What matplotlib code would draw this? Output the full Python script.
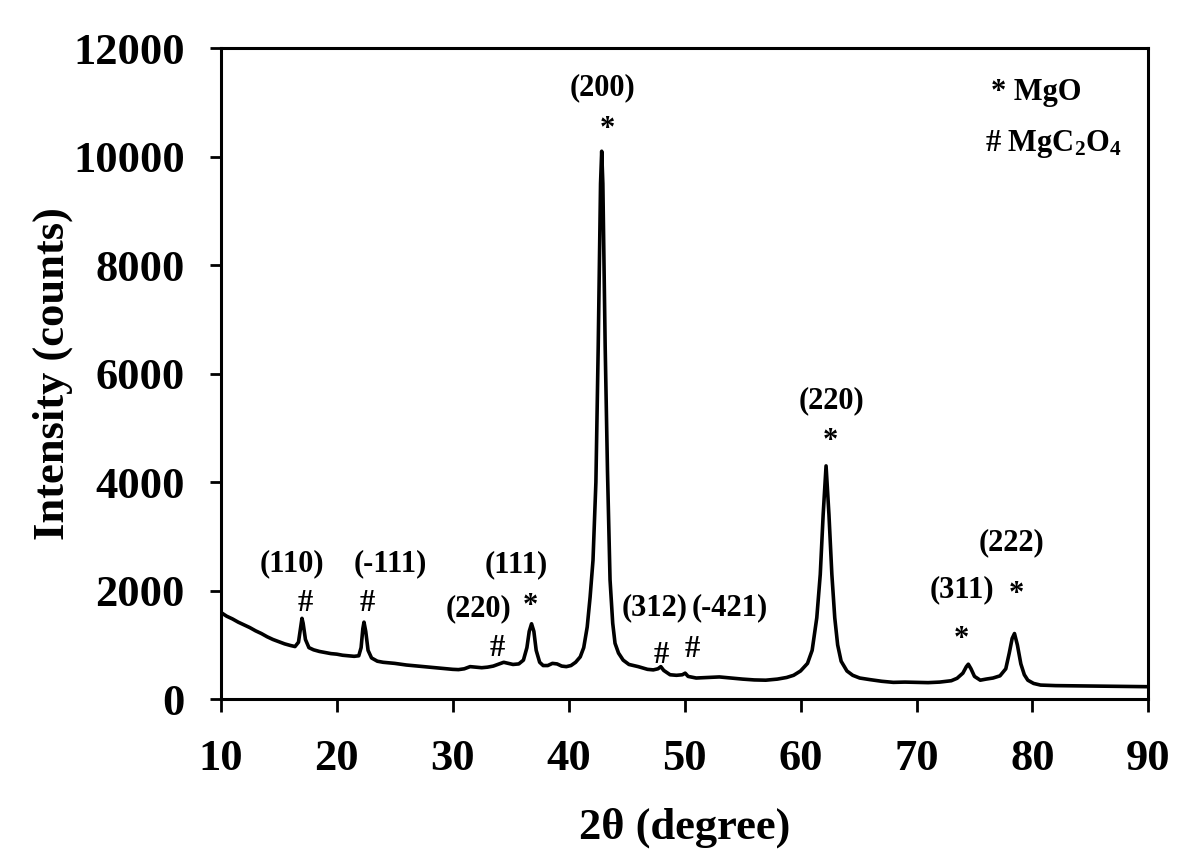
import matplotlib
matplotlib.use("Agg")
import matplotlib.pyplot as plt

plt.rcParams['font.family'] = ['Liberation Serif', 'DejaVu Serif']
plt.rcParams['font.weight'] = 'bold'
plt.rcParams['mathtext.fontset'] = 'custom'
plt.rcParams['mathtext.rm'] = 'Liberation Serif:bold'
plt.rcParams['mathtext.it'] = 'Liberation Serif:bold'
plt.rcParams['mathtext.bf'] = 'Liberation Serif:bold'

# XRD pattern
two_theta = [10.0, 10.5, 11.0, 11.5, 12.0, 12.5, 13.0, 13.5, 14.0, 14.5, 15.0, 15.5, 16.0, 16.4,
             16.7, 16.9, 17.0, 17.1, 17.3, 17.6, 18.0, 18.5, 19.0, 19.5, 20.0, 20.5, 21.0, 21.5,
             21.9, 22.1, 22.25, 22.35, 22.5, 22.7, 23.0, 23.5, 24.0, 25.0, 26.0, 27.0, 28.0, 29.0,
             30.0, 30.5, 31.0, 31.5, 32.0, 32.5, 33.0, 33.5, 34.0, 34.4, 34.8, 35.2, 35.7, 36.1,
             36.4, 36.6, 36.8, 37.0, 37.2, 37.5, 37.8, 38.2, 38.6, 39.0, 39.4, 39.8, 40.2, 40.6,
             41.0, 41.3, 41.6, 41.85, 42.1, 42.35, 42.55, 42.75, 42.85, 42.95, 43.15, 43.35, 43.57,
             43.8, 44.0, 44.3, 44.7, 45.2, 46.0, 46.8, 47.3, 47.7, 47.95, 48.2, 48.75, 49.3, 49.8,
             50.05, 50.3, 51.0, 52.0, 53.0, 54.0, 55.0, 56.0, 57.0, 58.0, 58.8, 59.4, 60.0, 60.6,
             61.0, 61.4, 61.7, 61.95, 62.2, 62.45, 62.7, 62.95, 63.2, 63.5, 64.0, 64.5, 65.1, 66.0,
             67.0, 68.0, 69.0, 70.0, 71.0, 72.0, 73.0, 73.5, 74.0, 74.3, 74.47, 74.7, 75.0, 75.5,
             76.0, 76.6, 77.2, 77.7, 78.0, 78.25, 78.45, 78.7, 79.0, 79.3, 79.6, 80.1, 80.7, 82.0,
             84.0, 86.0, 88.0, 90.0]
intensity = [1600, 1530, 1480, 1420, 1370, 1320, 1260, 1210, 1150, 1100, 1060, 1020, 990, 970,
             1050, 1350, 1490, 1400, 1100, 950, 910, 880, 860, 840, 830, 810, 800, 790,
             800, 950, 1300, 1420, 1250, 900, 760, 700, 680, 660, 630, 610, 590, 570,
             550, 545, 560, 600, 590, 580, 590, 610, 650, 680, 660, 640, 650, 720,
             950, 1250, 1390, 1250, 900, 680, 620, 620, 660, 650, 610, 600, 620, 680,
             780, 950, 1330, 1880, 2560, 4000, 6500, 9500, 10100, 9500, 6500, 4200, 2200,
             1400, 1030, 850, 720, 640, 600, 550, 540, 560, 600, 530, 450, 440, 450,
             480, 420, 390, 400, 410, 390, 370, 355, 350, 370, 400, 440, 520, 660,
             900, 1500, 2300, 3400, 4300, 3400, 2300, 1500, 1000, 700, 520, 440, 390, 360,
             330, 310, 315, 310, 305, 315, 340, 385, 480, 600, 645, 560, 420, 350,
             370, 390, 430, 560, 850, 1120, 1210, 1000, 650, 450, 350, 290, 260, 250,
             245, 240, 235, 230]

# peak labels (Miller indices) and phase markers
hkl_text = ['(110)', '(-111)', '(220)', '(111)', '(200)', '(312)', '(-421)', '(220)', '(311)', '(222)']
hkl_x = [16.1, 24.6, 32.2, 35.45, 42.9, 47.45, 53.9, 62.7, 73.95, 78.2]
hkl_y = [2500, 2500, 1660, 2470, 11280, 1680, 1680, 5510, 2010, 2875]
mark_text = ['#', '#', '#', '*', '*', '#', '#', '*', '*', '*']
mark_x = [17.25, 22.6, 33.8, 36.7, 43.3, 47.97, 50.65, 62.6, 73.9, 78.6]
mark_y = [1770, 1770, 940, 1700, 10500, 810, 920, 4750, 1100, 1930]

fig = plt.figure(figsize=(12, 8.6), dpi=100)
ax = fig.add_axes([0.184, 0.187, 0.773, 0.757])
ax.plot(two_theta, intensity, color='black', lw=2.6)

for t, x, y in zip(hkl_text, hkl_x, hkl_y):
    ax.text(x, y, t, ha='center', va='center', fontsize=22, fontweight='bold')
for t, x, y in zip(mark_text, mark_x, mark_y):
    ax.text(x, y, t, ha='center', va='center', fontsize=22, fontweight='bold')

ax.text(0.83, 0.932, '* MgO', transform=ax.transAxes, ha='left', va='center', fontsize=22, fontweight='bold')
ax.text(0.824, 0.853, r'# MgC$_2$O$_4$', transform=ax.transAxes, ha='left', va='center', fontsize=22, fontweight='bold')

ax.set_xlim(10, 90)
ax.set_ylim(0, 12000)
ax.set_xticks(range(10, 91, 10))
ax.set_yticks(range(0, 12001, 2000))
for s in ax.spines.values():
    s.set_linewidth(2.2)
ax.tick_params(axis='x', direction='out', length=9, width=2, pad=20, labelsize=32)
ax.tick_params(axis='y', direction='out', length=8, width=2, pad=18, labelsize=32)
for lab in ax.get_xticklabels() + ax.get_yticklabels():
    lab.set_fontweight('bold')

ax.set_xlabel('2θ (degree)', fontsize=32, fontweight='bold', labelpad=20)
ax.set_ylabel('Intensity (counts)', fontsize=32, fontweight='bold', labelpad=0)

fig.savefig('out.png', dpi=100)
